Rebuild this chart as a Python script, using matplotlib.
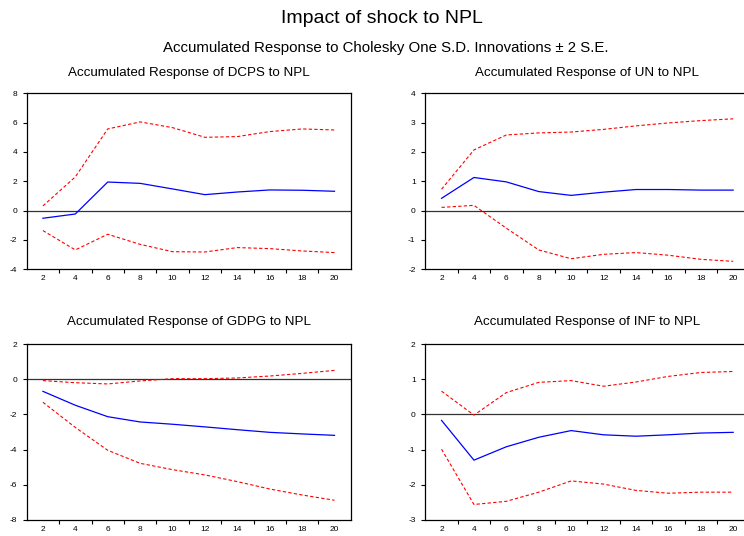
import matplotlib
matplotlib.use("Agg")
import matplotlib.pyplot as plt

plt.rcParams['font.family'] = ['Liberation Sans', 'DejaVu Sans']

periods = [2, 4, 6, 8, 10, 12, 14, 16, 18, 20]

# accumulated responses (response, upper band, lower band)
dcps_resp = [-0.52, -0.23, 1.95, 1.86, 1.48, 1.09, 1.27, 1.41, 1.39, 1.32]
dcps_hi = [0.32, 2.30, 5.57, 6.05, 5.66, 5.00, 5.05, 5.39, 5.57, 5.50]
dcps_lo = [-1.36, -2.68, -1.61, -2.30, -2.80, -2.82, -2.52, -2.59, -2.75, -2.86]

un_resp = [0.42, 1.13, 0.98, 0.65, 0.52, 0.63, 0.72, 0.72, 0.70, 0.70]
un_hi = [0.73, 2.07, 2.58, 2.65, 2.68, 2.77, 2.89, 2.99, 3.07, 3.13]
un_lo = [0.11, 0.18, -0.60, -1.34, -1.64, -1.49, -1.43, -1.52, -1.66, -1.73]

gdpg_resp = [-0.69, -1.48, -2.13, -2.43, -2.56, -2.71, -2.87, -3.02, -3.11, -3.19]
gdpg_hi = [-0.08, -0.20, -0.27, -0.10, 0.03, 0.03, 0.07, 0.18, 0.33, 0.50]
gdpg_lo = [-1.31, -2.74, -4.04, -4.78, -5.14, -5.44, -5.82, -6.24, -6.58, -6.88]

inf_resp = [-0.17, -1.30, -0.92, -0.65, -0.46, -0.58, -0.62, -0.58, -0.53, -0.51]
inf_hi = [0.66, -0.02, 0.62, 0.91, 0.96, 0.80, 0.92, 1.08, 1.19, 1.22]
inf_lo = [-0.99, -2.56, -2.47, -2.21, -1.89, -1.98, -2.16, -2.24, -2.21, -2.21]

panels = [
    ("DCPS", dcps_resp, dcps_hi, dcps_lo, (-4, 8), [-4, -2, 0, 2, 4, 6, 8]),
    ("UN", un_resp, un_hi, un_lo, (-2, 4), [-2, -1, 0, 1, 2, 3, 4]),
    ("GDPG", gdpg_resp, gdpg_hi, gdpg_lo, (-8, 2), [-8, -6, -4, -2, 0, 2]),
    ("INF", inf_resp, inf_hi, inf_lo, (-3, 2), [-3, -2, -1, 0, 1, 2]),
]

fig = plt.figure(figsize=(7.44, 5.36), dpi=100)
fig.text(0.5134, 0.9650, "Impact of shock to NPL", ha="center", va="center", fontsize=14)
fig.text(0.519, 0.9110, "Accumulated Response to Cholesky One S.D. Innovations \u00b1 2 S.E.",
         ha="center", va="center", fontsize=10.8)

boxes = [
    [0.0359, 0.4976, 0.4355, 0.3283],
    [0.5717, 0.4976, 0.4355, 0.3283],
    [0.0359, 0.0299, 0.4355, 0.3283],
    [0.5717, 0.0299, 0.4355, 0.3283],
]
title_y = [0.864, 0.864, 0.3985, 0.3985]

for (name, resp, hi, lo, ylim, yt), box, ty in zip(panels, boxes, title_y):
    ax = fig.add_axes(box)
    ax.axhline(0, color="#333333", lw=0.9)
    ax.plot(periods, resp, color="#0000ff", lw=0.9)
    ax.plot(periods, hi, color="#ff0000", lw=0.8, dashes=(3, 2))
    ax.plot(periods, lo, color="#ff0000", lw=0.8, dashes=(3, 2))
    ax.set_xlim(1, 21)
    ax.set_ylim(*ylim)
    ax.set_yticks(yt)
    ax.set_yticklabels([str(v) for v in yt])
    # tick marks sit between the labels, labels have no marks
    ax.set_xticks(range(3, 21, 2))
    ax.set_xticklabels([])
    ax.set_xticks(periods, minor=True)
    ax.set_xticklabels([str(p) for p in periods], minor=True)
    ax.tick_params(axis="x", which="major", length=3, width=0.8, direction="out")
    ax.tick_params(axis="x", which="minor", length=0, labelsize=6, pad=4)
    ax.tick_params(axis="y", length=3, width=0.8, direction="out", labelsize=6, pad=4)
    for s in ax.spines.values():
        s.set_linewidth(0.9)
    fig.text(box[0] + box[2] / 2, ty, "Accumulated Response of %s to NPL" % name,
             ha="center", va="center", fontsize=9.6)

plt.savefig("out.png", dpi=100)
